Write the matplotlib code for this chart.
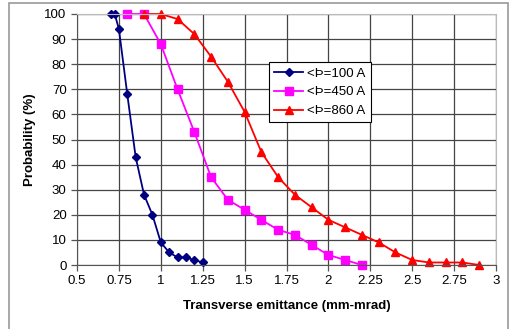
import matplotlib.pyplot as plt
from matplotlib.patches import Rectangle

plt.rcParams['font.family'] = ['Liberation Sans', 'DejaVu Sans']

# Data
x_100 = [0.7, 0.725, 0.75, 0.8, 0.85, 0.9, 0.95, 1.0, 1.05, 1.1, 1.15, 1.2, 1.25]
y_100 = [100, 100, 94, 68, 43, 28, 20, 9, 5, 3, 3, 2, 1]

x_450 = [0.8, 0.9, 1.0, 1.1, 1.2, 1.3, 1.4, 1.5, 1.6, 1.7, 1.8, 1.9, 2.0, 2.1, 2.2]
y_450 = [100, 100, 88, 70, 53, 35, 26, 22, 18, 14, 12, 8, 4, 2, 0]

x_860 = [0.9, 1.0, 1.1, 1.2, 1.3, 1.4, 1.5, 1.6, 1.7, 1.8, 1.9, 2.0, 2.1, 2.2,
         2.3, 2.4, 2.5, 2.6, 2.7, 2.8, 2.9]
y_860 = [100, 100, 98, 92, 83, 73, 61, 45, 35, 28, 23, 18, 15, 12,
         9, 5, 2, 1, 1, 1, 0]

labels = ['<Þ=100 A', '<Þ=450 A', '<Þ=860 A']
x_ticks = [0.5, 0.75, 1, 1.25, 1.5, 1.75, 2, 2.25, 2.5, 2.75, 3]
x_ticklabels = ['0.5', '0.75', '1', '1.25', '1.5', '1.75', '2', '2.25', '2.5', '2.75', '3']
y_ticks = list(range(0, 101, 10))

fig = plt.figure(figsize=(5.1, 3.29), dpi=100)
ax = fig.add_axes([77 / 510, 1 - 265 / 329, 419 / 510, 251 / 329])

# outer chart frame
fig.patches.append(Rectangle((9 / 510, -0.05), 499 / 510, 1.05 - 3 / 329,
                             transform=fig.transFigure, fill=False,
                             edgecolor='#999999', linewidth=1.2))

ax.plot(x_100, y_100, color='#000080', marker='D', markersize=4, linewidth=1.3,
        label=labels[0], clip_on=False)
ax.plot(x_450, y_450, color='#FF00FF', marker='s', markersize=5.5, linewidth=1.3,
        label=labels[1], clip_on=False)
ax.plot(x_860, y_860, color='#FF0000', marker='^', markersize=6, linewidth=1.3,
        label=labels[2], clip_on=False)

ax.set_xlim(0.5, 3)
ax.set_ylim(0, 100)
ax.set_xticks(x_ticks)
ax.set_xticklabels(x_ticklabels)
ax.set_yticks(y_ticks)
ax.grid(True, color='#444444', linewidth=0.9)
ax.set_axisbelow(True)
ax.tick_params(labelsize=9.5, direction='out', length=4, color='#555555', width=0.9)

for s in ['top', 'right']:
    ax.spines[s].set_color('#BBBBBB')
for s in ['left', 'bottom']:
    ax.spines[s].set_color('#555555')

ax.set_xlabel('Transverse emittance (mm-mrad)', fontsize=9.5, fontweight='bold', labelpad=9)
ax.set_ylabel('Probability (%)', fontsize=9.5, fontweight='bold', labelpad=6)

leg = ax.legend(loc='upper left', bbox_to_anchor=((269 - 77) / 419, (265 - 62) / 251),
                borderaxespad=0, fontsize=9.5, fancybox=False, framealpha=1,
                handlelength=2.2, handletextpad=0.3, labelspacing=0.5,
                borderpad=0.4)
leg.get_frame().set_edgecolor('black')
leg.get_frame().set_linewidth(0.8)

fig.savefig('out.png', dpi=100)
